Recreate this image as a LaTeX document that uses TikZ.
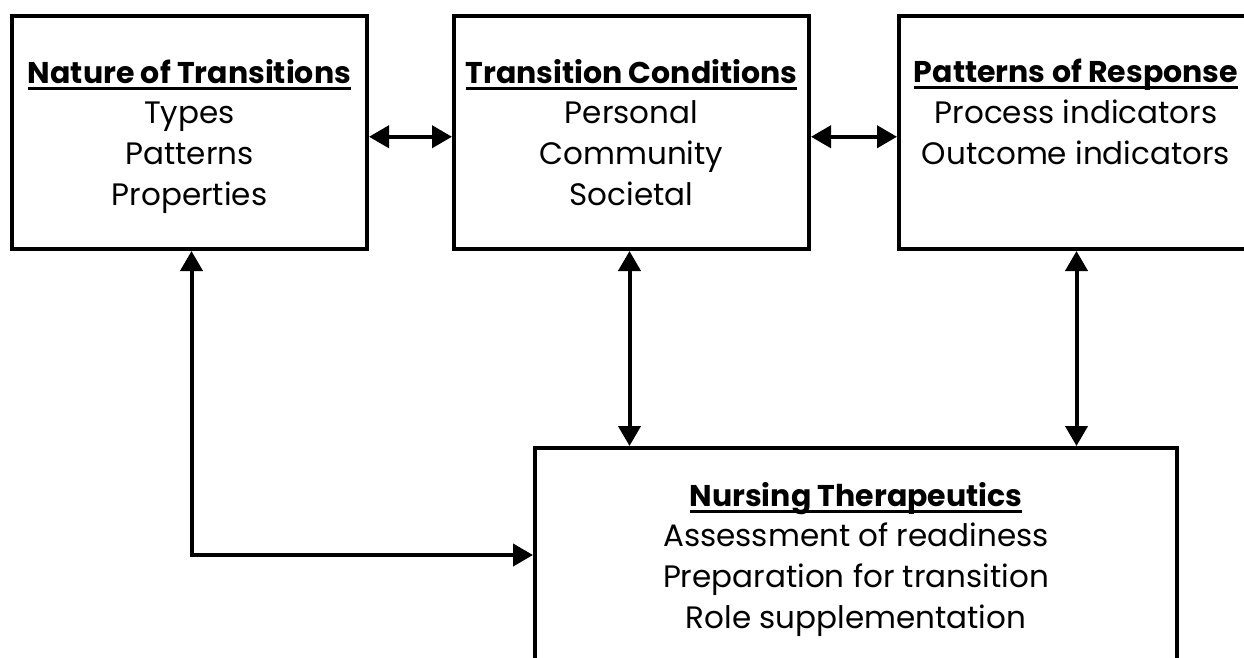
\documentclass[tikz,border=0pt]{standalone}
\usepackage{fontspec}
\setmainfont{Poppins}
\usetikzlibrary{arrows.meta}
\newsavebox{\hdrbox}
\newcommand\hdr[1]{\sbox{\hdrbox}{\fontsize{30}{40.5}\selectfont\bfseries #1}\rlap{\rule[-6.5pt]{\wd\hdrbox}{3pt}}\usebox{\hdrbox}}
\begin{document}
\begin{tikzpicture}[x=1pt,y=-1pt,
  box/.style={draw,line width=4pt,inner sep=0pt,minimum width=355pt,minimum height=233.5pt},
  txt/.style={align=center,inner sep=0pt,anchor=base,font=\fontsize{31}{40.8}\selectfont},
  link/.style={line width=4pt,{Triangle[length=20pt,width=22pt]}-{Triangle[length=20pt,width=22pt]}}
]
\useasboundingbox (0,0) rectangle (1244,657);
\node[box] (b1) at (189.5,132.25) {};
\node[box] (b2) at (631.5,132.25) {};
\node[box] (b3) at (1076.5,132.25) {};
\node[box,minimum width=642pt,minimum height=214pt] (b4) at (856,555) {};

\node[txt] (t1) at (189.5,205.5) {\hdr{Nature of Transitions}\\Types\\Patterns\\Properties};
\node[txt] (t2) at (631.5,205.5) {\hdr{Transition Conditions}\\Personal\\Community\\Societal};
\node[txt] (t3) at (1076,164.5) {\hdr{Patterns of Response}\\Process indicators\\Outcome indicators};
\node[txt] (t4) at (856,628.5) {\hdr{Nursing Therapeutics}\\Assessment of readiness\\Preparation for transition\\Role supplementation};

\draw[link] ([yshift=-4.5pt]b1.east) -- ([yshift=-4.5pt]b2.west);
\draw[link] ([yshift=-4.5pt]b2.east) -- ([yshift=-4.5pt]b3.west);
\draw[link] ([xshift=-2pt]b2.south) -- ([xshift=-2pt]b2.south |- b4.north);
\draw[link] (b3.south) -- (b3.south |- b4.north);
\draw[link] ([xshift=2pt]b1.south) |- (b4.west);
\end{tikzpicture}
\end{document}
